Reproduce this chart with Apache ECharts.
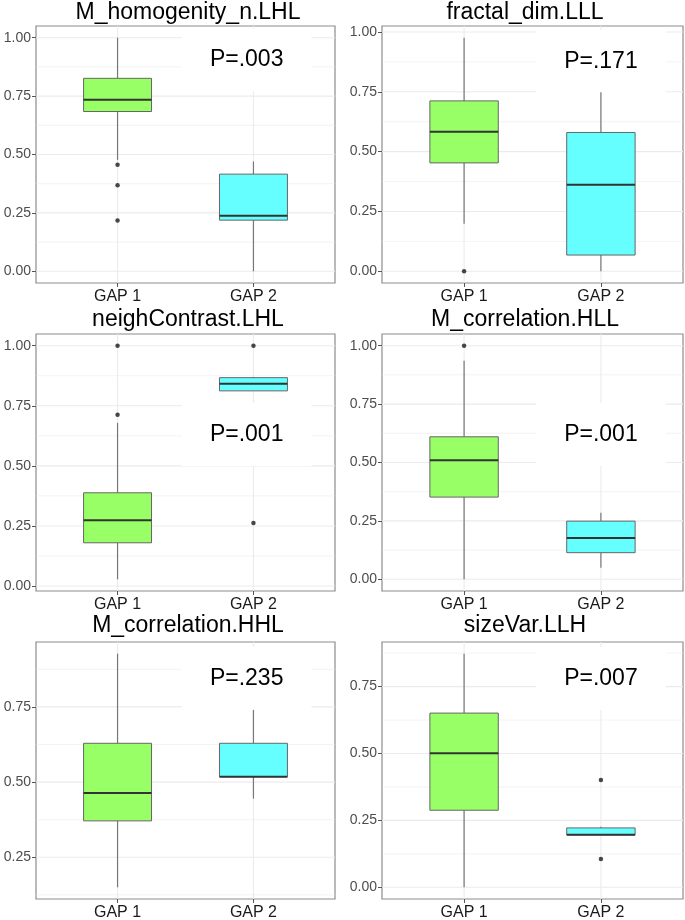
<!DOCTYPE html>
<html><head><meta charset="utf-8">
<script src="https://cdn.jsdelivr.net/npm/echarts@6/dist/echarts.min.js"></script>
<style>html,body{margin:0;padding:0;background:#fff}#c{width:685px;height:920px}</style>
</head><body><div id="c"></div>
<script>
// ---- data ----
const categories = ['GAP 1', 'GAP 2'];
const panelTitles = ['M_homogenity_n.LHL', 'fractal_dim.LLL', 'neighContrast.LHL', 'M_correlation.HLL', 'M_correlation.HHL', 'sizeVar.LLH'];
const pLabels = ['P=.003', 'P=.171', 'P=.001', 'P=.001', 'P=.235', 'P=.007'];
// box stats: [lower whisker, Q1, median, Q3, upper whisker]
const homogenityGap1 = [0.477, 0.684, 0.734, 0.826, 1.000];
const homogenityGap2 = [0.000, 0.219, 0.238, 0.416, 0.470];
const homogenityOut1 = [0.456, 0.368, 0.218];
const homogenityOut2 = [];
const fractalGap1 = [0.199, 0.453, 0.583, 0.712, 0.976];
const fractalGap2 = [0.000, 0.068, 0.362, 0.580, 0.748];
const fractalOut1 = [0.000];
const fractalOut2 = [];
const neighGap1 = [0.028, 0.180, 0.274, 0.388, 0.679];
const neighGap2 = [0.812, 0.812, 0.842, 0.867, 0.870];
const neighOut1 = [1.000, 0.713];
const neighOut2 = [1.000, 0.262];
const corrHLLGap1 = [0.000, 0.352, 0.510, 0.610, 0.936];
const corrHLLGap2 = [0.050, 0.114, 0.177, 0.249, 0.285];
const corrHLLOut1 = [1.000];
const corrHLLOut2 = [];
const corrHHLGap1 = [0.150, 0.371, 0.464, 0.629, 0.927];
const corrHHLGap2 = [0.445, 0.518, 0.518, 0.629, 0.740];
const corrHHLOut1 = [];
const corrHHLOut2 = [];
const sizeVarGap1 = [0.000, 0.288, 0.501, 0.651, 0.873];
const sizeVarGap2 = [0.196, 0.196, 0.196, 0.222, 0.226];
const sizeVarOut1 = [];
const sizeVarOut2 = [0.401, 0.106];
const ticksFull = [0, 0.25, 0.5, 0.75, 1];
const ticksHHL = [0.25, 0.5, 0.75];
const ticksSize = [0, 0.25, 0.5, 0.75];

// ---- layout / style ----
const FONT = '"Liberation Sans", Arial, sans-serif';
const fills = ['#99FF66', '#66FFFF'];
const colLeft = [36, 382], colWidth = [299, 301];
const rowTop = [26, 334, 642], rowH = 257;
const titleX = [188, 525], titleY = [13, 320, 626];

const panels = [
  { g1: homogenityGap1, g2: homogenityGap2, o1: homogenityOut1, o2: homogenityOut2, ticks: ticksFull, pPos: [1.95, 0.905] },
  { g1: fractalGap1, g2: fractalGap2, o1: fractalOut1, o2: fractalOut2, ticks: ticksFull, pPos: [2.0, 0.876] },
  { g1: neighGap1, g2: neighGap2, o1: neighOut1, o2: neighOut2, ticks: ticksFull, pPos: [1.95, 0.63] },
  { g1: corrHLLGap1, g2: corrHLLGap2, o1: corrHLLOut1, o2: corrHLLOut2, ticks: ticksFull, pPos: [2.0, 0.62] },
  { g1: corrHHLGap1, g2: corrHHLGap2, o1: corrHHLOut1, o2: corrHHLOut2, ticks: ticksHHL, pPos: [1.95, 0.845] },
  { g1: sizeVarGap1, g2: sizeVarGap2, o1: sizeVarOut1, o2: sizeVarOut2, ticks: ticksSize, pPos: [2.0, 0.78] }
];

const option = { animation: false, grid: [], xAxis: [], yAxis: [], series: [], graphic: [] };

panels.forEach((p, i) => {
  const col = i % 2, row = Math.floor(i / 2);
  const all = [...p.g1, ...p.g2, ...p.o1, ...p.o2];
  const lo = Math.min(...all), hi = Math.max(...all), pad = (hi - lo) * 0.05;
  const yMin = lo - pad, yMax = hi + pad;

  option.grid.push({ left: colLeft[col], top: rowTop[row], width: colWidth[col], height: rowH,
    show: true, borderColor: '#8c8c8c', borderWidth: 1.2, backgroundColor: '#fff', outerBoundsMode: 'none' });
  option.xAxis.push({ gridIndex: i, type: 'value', min: 0.4, max: 2.6, position: 'bottom',
    axisLine: { show: false, onZero: false }, splitLine: { show: false },
    axisTick: { show: true, customValues: [1, 2], length: 4, lineStyle: { color: '#555' } },
    axisLabel: { customValues: [1, 2], formatter: v => categories[Math.round(v) - 1], fontSize: 16, color: '#1a1a1a', fontFamily: FONT, margin: 6 } });
  option.yAxis.push({ gridIndex: i, type: 'value', min: yMin, max: yMax, position: 'left',
    axisLine: { show: false, onZero: false }, splitLine: { show: false },
    axisTick: { show: true, customValues: p.ticks, length: 4, lineStyle: { color: '#555' } },
    axisLabel: { customValues: p.ticks, formatter: v => v.toFixed(2), fontSize: 14, color: '#4d4d4d', fontFamily: FONT, margin: 5 } });

  // grid lines
  const minors = [];
  for (let v = p.ticks[0] - 0.125; v < yMax; v += 0.25) if (v > yMin) minors.push(v);
  const lines = [...p.ticks.map(v => [0, v, 1]), ...minors.map(v => [0, v, 0]), [1, 1, 1], [1, 2, 1]];
  option.series.push({ type: 'custom', xAxisIndex: i, yAxisIndex: i, z: 1, silent: true, data: lines,
    encode: { x: 1, y: 1 },
    renderItem: (params, api) => {
      const cs = params.coordSys;
      const o = api.value(0), v = api.value(1), maj = api.value(2);
      const st = { stroke: '#ebebeb', lineWidth: maj ? 1.1 : 0.6 };
      if (o === 0) {
        const y = api.coord([1, v])[1];
        return { type: 'line', shape: { x1: cs.x, y1: y, x2: cs.x + cs.width, y2: y }, style: st };
      }
      const x = api.coord([v, 0])[0];
      return { type: 'line', shape: { x1: x, y1: cs.y, x2: x, y2: cs.y + cs.height }, style: st };
    } });

  // P label
  option.series.push({ type: 'custom', xAxisIndex: i, yAxisIndex: i, z: 2, silent: true,
    data: [[p.pPos[0], p.pPos[1]]],
    renderItem: (params, api) => {
      const pt = api.coord([api.value(0), api.value(1)]);
      return { type: 'text', x: pt[0], y: pt[1],
        style: { text: pLabels[i], fill: '#000', font: '23px ' + FONT, align: 'center', verticalAlign: 'middle',
          textAlign: 'center', textVerticalAlign: 'middle', backgroundColor: '#fff', padding: [20, 28] } };
    } });

  // boxes
  option.series.push({ type: 'custom', xAxisIndex: i, yAxisIndex: i, z: 3,
    data: [[1, ...p.g1], [2, ...p.g2]],
    encode: { x: 0, y: [1, 2, 3, 4, 5] },
    renderItem: (params, api) => {
      const xv = api.value(0);
      const mn = api.coord([xv, api.value(1)]);
      const q1 = api.coord([xv, api.value(2)]);
      const md = api.coord([xv, api.value(3)]);
      const q3 = api.coord([xv, api.value(4)]);
      const mx = api.coord([xv, api.value(5)]);
      const hw = api.size([0.5, 0])[0] / 2;
      const cx = mn[0];
      const wh = { stroke: '#777', lineWidth: 1.2 };
      return { type: 'group', children: [
        { type: 'line', shape: { x1: cx, y1: q3[1], x2: cx, y2: mx[1] }, style: wh },
        { type: 'line', shape: { x1: cx, y1: q1[1], x2: cx, y2: mn[1] }, style: wh },
        { type: 'rect', shape: { x: cx - hw, y: q3[1], width: 2 * hw, height: q1[1] - q3[1] },
          style: { fill: fills[Math.round(xv) - 1], stroke: '#666', lineWidth: 1 } },
        { type: 'line', shape: { x1: cx - hw, y1: md[1], x2: cx + hw, y2: md[1] }, style: { stroke: '#333', lineWidth: 2 } }
      ] };
    } });

  // outliers
  option.series.push({ type: 'scatter', xAxisIndex: i, yAxisIndex: i, z: 4, symbolSize: 4.5,
    itemStyle: { color: '#1a1a1a' },
    data: [...p.o1.map(v => [1, v]), ...p.o2.map(v => [2, v])] });

  option.graphic.push({ type: 'text', x: titleX[col], y: titleY[row],
    style: { text: panelTitles[i], font: '23px ' + FONT, fill: '#000', align: 'center', verticalAlign: 'middle',
      textAlign: 'center', textVerticalAlign: 'middle' } });
});

const chart = echarts.init(document.getElementById('c'));
chart.setOption(option);
</script>
</body></html>
